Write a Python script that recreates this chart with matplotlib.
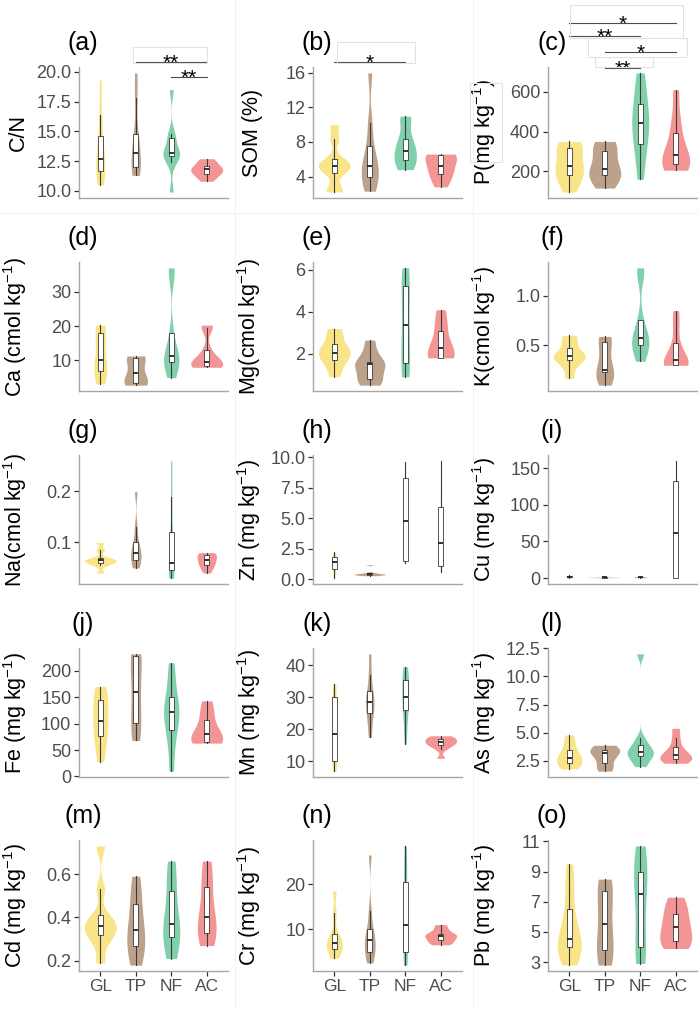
import numpy as np
import matplotlib
matplotlib.use('Agg')
import matplotlib.pyplot as plt
from matplotlib.patches import Rectangle
from matplotlib.lines import Line2D
from matplotlib.transforms import blended_transform_factory


plt.rcParams['font.family'] = ['Liberation Sans', 'DejaVu Sans']
plt.rcParams['mathtext.fontset'] = 'custom'
plt.rcParams['mathtext.rm'] = 'Liberation Sans'
plt.rcParams['mathtext.it'] = 'Liberation Sans:italic'
plt.rcParams['mathtext.bf'] = 'Liberation Sans:bold'

# ------------------------------------------------------- #
# Datos (4 grupos por panel)

groups = ['GL', 'TP', 'NF', 'AC']
colors = ['#F9E488', '#BCA18B', '#80D0AB', '#F49595']

cn = [[10.5, 11.2, 11.7, 12.2, 12.7, 13.5, 14.6, 16.4, 19.3],
      [11.3, 11.6, 12.0, 12.6, 13.2, 14.0, 14.8, 17.8, 19.9],
      [9.9, 12.4, 12.9, 13.1, 13.2, 13.4, 14.4, 14.8, 18.5],
      [10.8, 11.2, 11.4, 11.6, 11.8, 11.9, 12.1, 12.4, 12.7]]
som = [[2.2, 2.6, 4.4, 5.0, 5.2, 5.5, 6.0, 8.3, 10.0],
       [2.3, 3.0, 4.0, 4.6, 5.2, 6.0, 7.5, 10.2, 16.0],
       [4.8, 5.2, 5.9, 6.5, 7.0, 7.8, 8.4, 10.5, 11.0],
       [2.8, 3.6, 4.3, 4.8, 5.2, 5.9, 6.5, 6.5, 6.6]]
p = [[95, 150, 180, 205, 225, 270, 315, 340, 350],
     [115, 150, 180, 195, 210, 260, 300, 340, 350],
     [160, 280, 335, 410, 445, 480, 540, 620, 695],
     [205, 215, 235, 255, 280, 320, 390, 470, 610]]
ca = [[3.2, 5.0, 7.0, 8.5, 10.2, 14.0, 18.0, 19.5, 20.3],
      [2.8, 3.0, 3.5, 4.5, 6.2, 8.0, 10.8, 11.0, 11.3],
      [5.0, 8.0, 9.5, 10.5, 11.2, 12.5, 18.0, 35.0, 37.0],
      [8.0, 8.2, 8.5, 9.0, 9.5, 10.5, 13.0, 19.5, 20.3]]
mg = [[0.9, 1.4, 1.7, 1.95, 2.05, 2.2, 2.45, 2.9, 3.2],
      [0.5, 0.7, 0.8, 1.2, 1.5, 1.55, 1.6, 2.1, 2.65],
      [0.9, 1.2, 1.55, 2.5, 3.35, 4.2, 5.25, 5.8, 6.1],
      [1.8, 1.8, 1.8, 2.0, 2.25, 2.6, 3.1, 3.6, 4.1]]
k = [[0.17, 0.28, 0.35, 0.37, 0.39, 0.42, 0.47, 0.55, 0.60],
     [0.10, 0.15, 0.23, 0.24, 0.25, 0.40, 0.53, 0.57, 0.59],
     [0.34, 0.42, 0.50, 0.54, 0.57, 0.62, 0.76, 1.20, 1.28],
     [0.30, 0.30, 0.30, 0.33, 0.35, 0.42, 0.52, 0.70, 0.85]]
na = [[0.04, 0.055, 0.06, 0.062, 0.065, 0.066, 0.07, 0.085, 0.10],
      [0.05, 0.06, 0.065, 0.075, 0.08, 0.09, 0.10, 0.13, 0.20],
      [0.03, 0.04, 0.045, 0.05, 0.06, 0.09, 0.12, 0.19, 0.26],
      [0.04, 0.05, 0.055, 0.06, 0.065, 0.07, 0.075, 0.078, 0.08]]
zn = [[0.1, 0.5, 0.85, 1.2, 1.4, 1.6, 1.85, 2.0, 2.2],
      [0.30, 0.35, 0.38, 0.40, 0.42, 0.45, 0.48, 0.55, 1.20],
      [1.3, 1.4, 1.5, 3.0, 4.8, 6.5, 8.3, 9.0, 9.6],
      [0.6, 0.9, 1.1, 2.0, 3.0, 4.5, 5.9, 8.0, 9.7]]
cu = [[0.5, 1.0, 1.5, 1.8, 2.0, 2.3, 2.7, 3.2, 4.0],
      [0.6, 0.7, 0.8, 0.9, 1.0, 1.05, 1.1, 1.3, 2.5],
      [0.4, 0.7, 0.9, 1.1, 1.3, 1.5, 1.7, 1.9, 2.2],
      [0.0, 0.0, 0.0, 20.0, 62.0, 100.0, 133.0, 150.0, 160.0]]
fe = [[28, 55, 77, 95, 105, 125, 145, 160, 170],
      [68, 85, 102, 130, 160, 190, 228, 230, 232],
      [10, 60, 87, 110, 121, 130, 150, 180, 215],
      [63, 64, 65, 72, 80, 90, 107, 125, 143]]
mn = [[7, 8, 10, 14, 18.5, 24, 30, 32, 34],
      [17.5, 22, 25, 27, 28.5, 30, 32, 37, 43.5],
      [15.5, 22, 26, 28, 30, 33, 35.5, 37, 39.5],
      [11, 14, 15, 15.5, 16, 16.5, 17, 17.5, 18]]
as_ = [[1.8, 2.1, 2.3, 2.6, 2.8, 3.1, 3.5, 4.2, 4.8],
       [1.6, 1.9, 2.3, 2.9, 3.2, 3.3, 3.5, 3.7, 3.9],
       [2.0, 2.5, 2.9, 3.1, 3.3, 3.6, 3.9, 4.5, 12.0],
       [2.3, 2.5, 2.7, 2.8, 3.0, 3.3, 3.7, 4.5, 5.4]]
cd = [[0.19, 0.28, 0.32, 0.34, 0.36, 0.38, 0.41, 0.53, 0.73],
      [0.18, 0.22, 0.27, 0.30, 0.34, 0.38, 0.46, 0.52, 0.59],
      [0.21, 0.27, 0.31, 0.34, 0.37, 0.42, 0.52, 0.60, 0.66],
      [0.27, 0.30, 0.33, 0.36, 0.40, 0.45, 0.54, 0.60, 0.66]]
cr = [[3.5, 5.0, 5.5, 6.5, 7.0, 7.8, 9.0, 13.5, 18.5],
      [2.5, 4.0, 5.0, 6.5, 7.5, 8.5, 10.0, 14.0, 26.5],
      [2.0, 3.5, 5.0, 7.5, 11.0, 15.0, 20.5, 25.0, 28.5],
      [6.5, 7.0, 7.5, 8.0, 8.5, 8.8, 9.0, 10.0, 11.0]]
pb = [[2.8, 3.5, 4.0, 4.2, 4.5, 5.2, 6.5, 8.0, 9.5],
      [2.8, 3.2, 3.8, 4.5, 5.5, 6.5, 7.7, 8.2, 8.5],
      [2.9, 3.5, 4.0, 6.0, 7.5, 8.5, 9.0, 10.0, 10.7],
      [3.9, 4.1, 4.4, 4.8, 5.3, 5.7, 6.2, 6.8, 7.3]]

# ticks del eje y
cn_ticks = ['10.0', '12.5', '15.0', '17.5', '20.0']
som_ticks = ['4', '8', '12', '16']
p_ticks = ['200', '400', '600']
ca_ticks = ['10', '20', '30']
mg_ticks = ['2', '4', '6']
k_ticks = ['0.5', '1.0']
na_ticks = ['0.1', '0.2']
zn_ticks = ['0.0', '2.5', '5.0', '7.5', '10.0']
cu_ticks = ['0', '50', '100', '150']
fe_ticks = ['0', '50', '100', '150', '200']
mn_ticks = ['10', '20', '30', '40']
as_ticks = ['2.5', '5.0', '7.5', '10.0', '12.5']
cd_ticks = ['0.2', '0.4', '0.6']
cr_ticks = ['10', '20']
pb_ticks = ['3', '5', '7', '9', '11']

panels = [
    ('(a)', 'C/N', cn, cn_ticks),
    ('(b)', 'SOM (%)', som, som_ticks),
    ('(c)', r'P(mg kg$^{-1}$)', p, p_ticks),
    ('(d)', r'Ca (cmol kg$^{-1}$)', ca, ca_ticks),
    ('(e)', r'Mg(cmol kg$^{-1}$)', mg, mg_ticks),
    ('(f)', r'K(cmol kg$^{-1}$)', k, k_ticks),
    ('(g)', r'Na(cmol kg$^{-1}$)', na, na_ticks),
    ('(h)', r'Zn (mg kg$^{-1}$)', zn, zn_ticks),
    ('(i)', r'Cu (mg kg$^{-1}$)', cu, cu_ticks),
    ('(j)', r'Fe (mg kg$^{-1}$)', fe, fe_ticks),
    ('(k)', r'Mn (mg kg$^{-1}$)', mn, mn_ticks),
    ('(l)', r'As (mg kg$^{-1}$)', as_, as_ticks),
    ('(m)', r'Cd (mg kg$^{-1}$)', cd, cd_ticks),
    ('(n)', r'Cr (mg kg$^{-1}$)', cr, cr_ticks),
    ('(o)', r'Pb (mg kg$^{-1}$)', pb, pb_ticks),
]

# comparaciones significativas: (panel, grupo1, grupo2, altura en fraccion de eje, etiqueta)
signif = [
    (0, 2, 4, 1.038, '**'),
    (0, 3, 4, 0.924, '**'),
    (1, 1, 3, 1.038, '*'),
    (2, 1, 4, 1.336, '*'),
    (2, 1, 3, 1.237, '**'),
    (2, 2, 4, 1.115, '*'),
    (2, 2, 3, 0.992, '**'),
]


# ------------------------------------------------------- #
# Funciones

def nrd0(v):
    # ancho de banda como bw.nrd0 de R
    sd = np.std(v, ddof=1)
    iqr = np.percentile(v, 75) - np.percentile(v, 25)
    lo = min(sd, iqr / 1.34)
    if lo == 0:
        lo = sd if sd > 0 else 1.0
    return 0.9 * lo * len(v) ** (-0.2)


def violins(ax, data):
    dens = []
    for vals in data:
        v = np.asarray(vals, float)
        bw = nrd0(v)
        ys = np.linspace(v.min(), v.max(), 512)
        d = np.exp(-0.5 * ((ys[:, None] - v[None, :]) / bw) ** 2).sum(1)
        d = d / (len(v) * bw * np.sqrt(2 * np.pi))
        dens.append((ys, d))
    top = max(d.max() for _, d in dens)
    for i, (ys, d) in enumerate(dens):
        w = 0.45 * d / top
        ax.fill_betweenx(ys, i + 1 - w, i + 1 + w, color=colors[i],
                         lw=0, zorder=1)
    # End for
    ax.boxplot(data, positions=[1, 2, 3, 4], widths=0.13, whis=1.5,
               showfliers=False, showcaps=False, patch_artist=True,
               manage_ticks=False,
               boxprops=dict(facecolor='white', edgecolor='#3a3a3a', linewidth=0.6),
               medianprops=dict(color='#222222', linewidth=1.3),
               whiskerprops=dict(color='#3a3a3a', linewidth=0.8),
               zorder=2)


# ------------------------------------------------------- #
# Figura

W, H = 699, 1009
fig = plt.figure(figsize=(W / 100, H / 100), dpi=100)

col_x = [(79, 228), (313, 462), (548, 697)]
row_y = [(67, 198), (262, 391), (455, 584), (648, 777), (840, 971)]


def px_rect(x0, y0, x1, y1):
    return Rectangle((x0 / W, 1 - y1 / H), (x1 - x0) / W, (y1 - y0) / H,
                     transform=fig.transFigure, fill=False,
                     edgecolor='#e2e2e2', lw=0.8)


# separadores tenues
for xs in [235, 473]:
    fig.add_artist(Line2D([xs / W, xs / W], [0, 1], transform=fig.transFigure,
                          color='#f2f2f2', lw=0.8))
fig.add_artist(Line2D([0, 1], [1 - 213 / H, 1 - 213 / H], transform=fig.transFigure,
                      color='#f2f2f2', lw=0.8))

axes = []
for n, (title, ylab, data, ticks) in enumerate(panels):
    r, c = divmod(n, 3)
    x0, x1 = col_x[c]
    y0, y1 = row_y[r]
    ax = fig.add_axes([x0 / W, 1 - y1 / H, (x1 - x0) / W, (y1 - y0) / H])
    axes.append(ax)

    violins(ax, data)

    allv = np.concatenate([np.asarray(v, float) for v in data])
    lo, hi = allv.min(), allv.max()
    pad = 0.05 * (hi - lo)
    ax.set_ylim(lo - pad, hi + pad)
    ax.set_xlim(0.4, 4.6)

    ax.set_yticks([float(t) for t in ticks])
    ax.set_yticklabels(ticks)
    ax.tick_params(axis='y', length=3.5, width=0.9, color='#333333',
                   labelcolor='#4D4D4D', labelsize=13, pad=2)
    if r == 4:
        ax.set_xticks([1, 2, 3, 4])
        ax.set_xticklabels(groups)
        ax.tick_params(axis='x', length=3.5, width=0.9, color='#333333',
                       labelcolor='#4D4D4D', labelsize=12.5, pad=2)
    else:
        ax.set_xticks([])

    for s in ['top', 'right']:
        ax.spines[s].set_visible(False)
    for s in ['left', 'bottom']:
        ax.spines[s].set_color('#A6A6A6')
        ax.spines[s].set_linewidth(1.0)

    ax.set_ylabel(ylab, fontsize=15.5, color='black')
    ax.yaxis.set_label_coords(-50 / (x1 - x0), 0.5)

    ax.text(4 / (x1 - x0), 1 + 24 / (y1 - y0), title, transform=ax.transAxes,
            ha='center', va='center', fontsize=18)
# End for

# brackets de significancia
for n, g1, g2, yf, lab in signif:
    ax = axes[n]
    tr = blended_transform_factory(ax.transData, ax.transAxes)
    ax.plot([g1, g2], [yf, yf], color='#4d4d4d', lw=0.8, transform=tr,
            clip_on=False, zorder=3)
    ax.annotate(lab, xy=((g1 + g2) / 2, yf), xycoords=tr, xytext=(0, -5),
                textcoords='offset points', ha='center', va='baseline',
                fontsize=15, annotation_clip=False)
# End for

# recuadros de las anotaciones
for rect in [(133, 47, 207, 63), (337, 42, 415, 63),
             (570, 5, 683, 38), (588, 38, 687, 57), (595, 57, 653, 67),
             (470, 83, 502, 162)]:
    fig.add_artist(px_rect(*rect))

plt.savefig('out.png', dpi=100)
